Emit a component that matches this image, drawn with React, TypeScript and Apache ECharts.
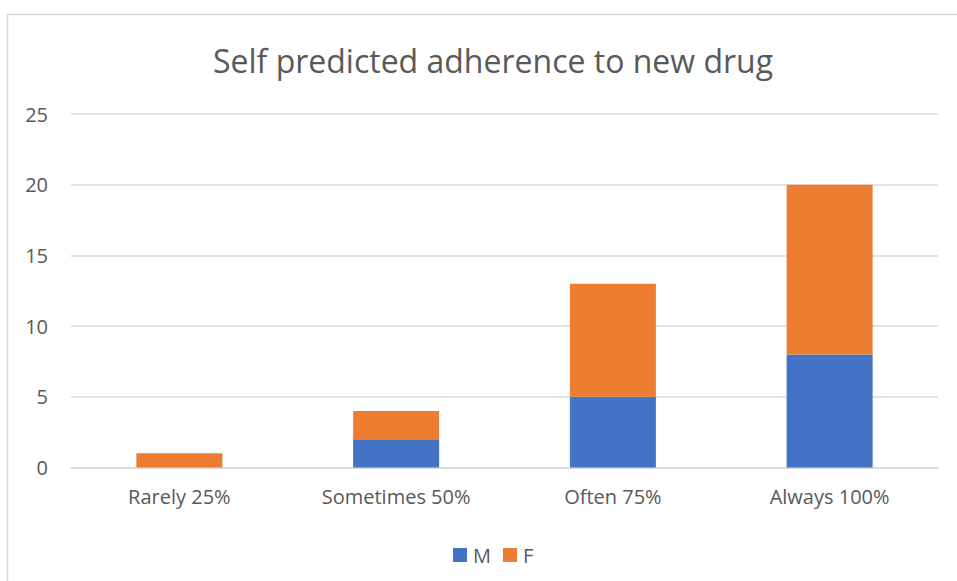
import React, { useEffect, useRef } from "react";
import * as echarts from "echarts";

const categories = ["Rarely 25%", "Sometimes 50%", "Often 75%", "Always 100%"];
const maleValues = [0, 2, 5, 8];
const femaleValues = [1, 2, 8, 12];
const titleText = "Self predicted adherence to new drug";

export default function App() {
  const ref = useRef<HTMLDivElement>(null);
  useEffect(() => {
    if (!ref.current) return;
    const chart = echarts.init(ref.current, null, { renderer: "svg" });
    const font = "'Open Sans', 'Noto Sans', sans-serif";
    chart.setOption({
      animation: false,
      backgroundColor: "#ffffff",
      textStyle: { fontFamily: font },
      title: {
        text: titleText,
        left: 488,
        textAlign: "center",
        top: 39,
        textStyle: { fontFamily: font, fontSize: 32, fontWeight: "normal", color: "#595959" },
      },
      graphic: [
        {
          type: "rect",
          shape: { x: 7.5, y: 14.5, width: 1000, height: 1000 },
          style: { fill: "none", stroke: "#d9d9d9", lineWidth: 1.5 },
          silent: true,
        },
      ],
      legend: {
        data: ["M", "F"],
        left: 448,
        top: 540,
        itemWidth: 14,
        itemHeight: 14,
        itemGap: 12,
        icon: "rect",
        textStyle: { fontFamily: font, fontSize: 20, color: "#595959", padding: [0, 0, 0, 1] },
      },
      grid: { left: 71, right: 19, top: 114, bottom: 113.5, containLabel: false },
      xAxis: {
        type: "category",
        data: categories,
        axisLine: { show: true, lineStyle: { color: "#d9d9d9", width: 1.5 } },
        axisTick: { show: false },
        axisLabel: { fontFamily: font, fontSize: 20, color: "#595959", margin: 19 },
      },
      yAxis: {
        type: "value",
        min: 0,
        max: 25,
        interval: 5,
        axisLine: { show: false },
        axisTick: { show: false },
        splitLine: { lineStyle: { color: "#d9d9d9", width: 1.5 } },
        axisLabel: { fontFamily: font, fontSize: 20, color: "#595959", margin: 23 },
      },
      series: [
        {
          name: "M",
          type: "bar",
          stack: "total",
          data: maleValues,
          barWidth: 86,
          itemStyle: { color: "#4472c4" },
        },
        {
          name: "F",
          type: "bar",
          stack: "total",
          data: femaleValues,
          barWidth: 86,
          itemStyle: { color: "#ed7d31" },
        },
      ],
    });
    return () => chart.dispose();
  }, []);
  return (
    <div
      ref={ref}
      style={{ position: "fixed", left: 0, top: 0, width: 957, height: 581, background: "#fff" }}
    />
  );
}
